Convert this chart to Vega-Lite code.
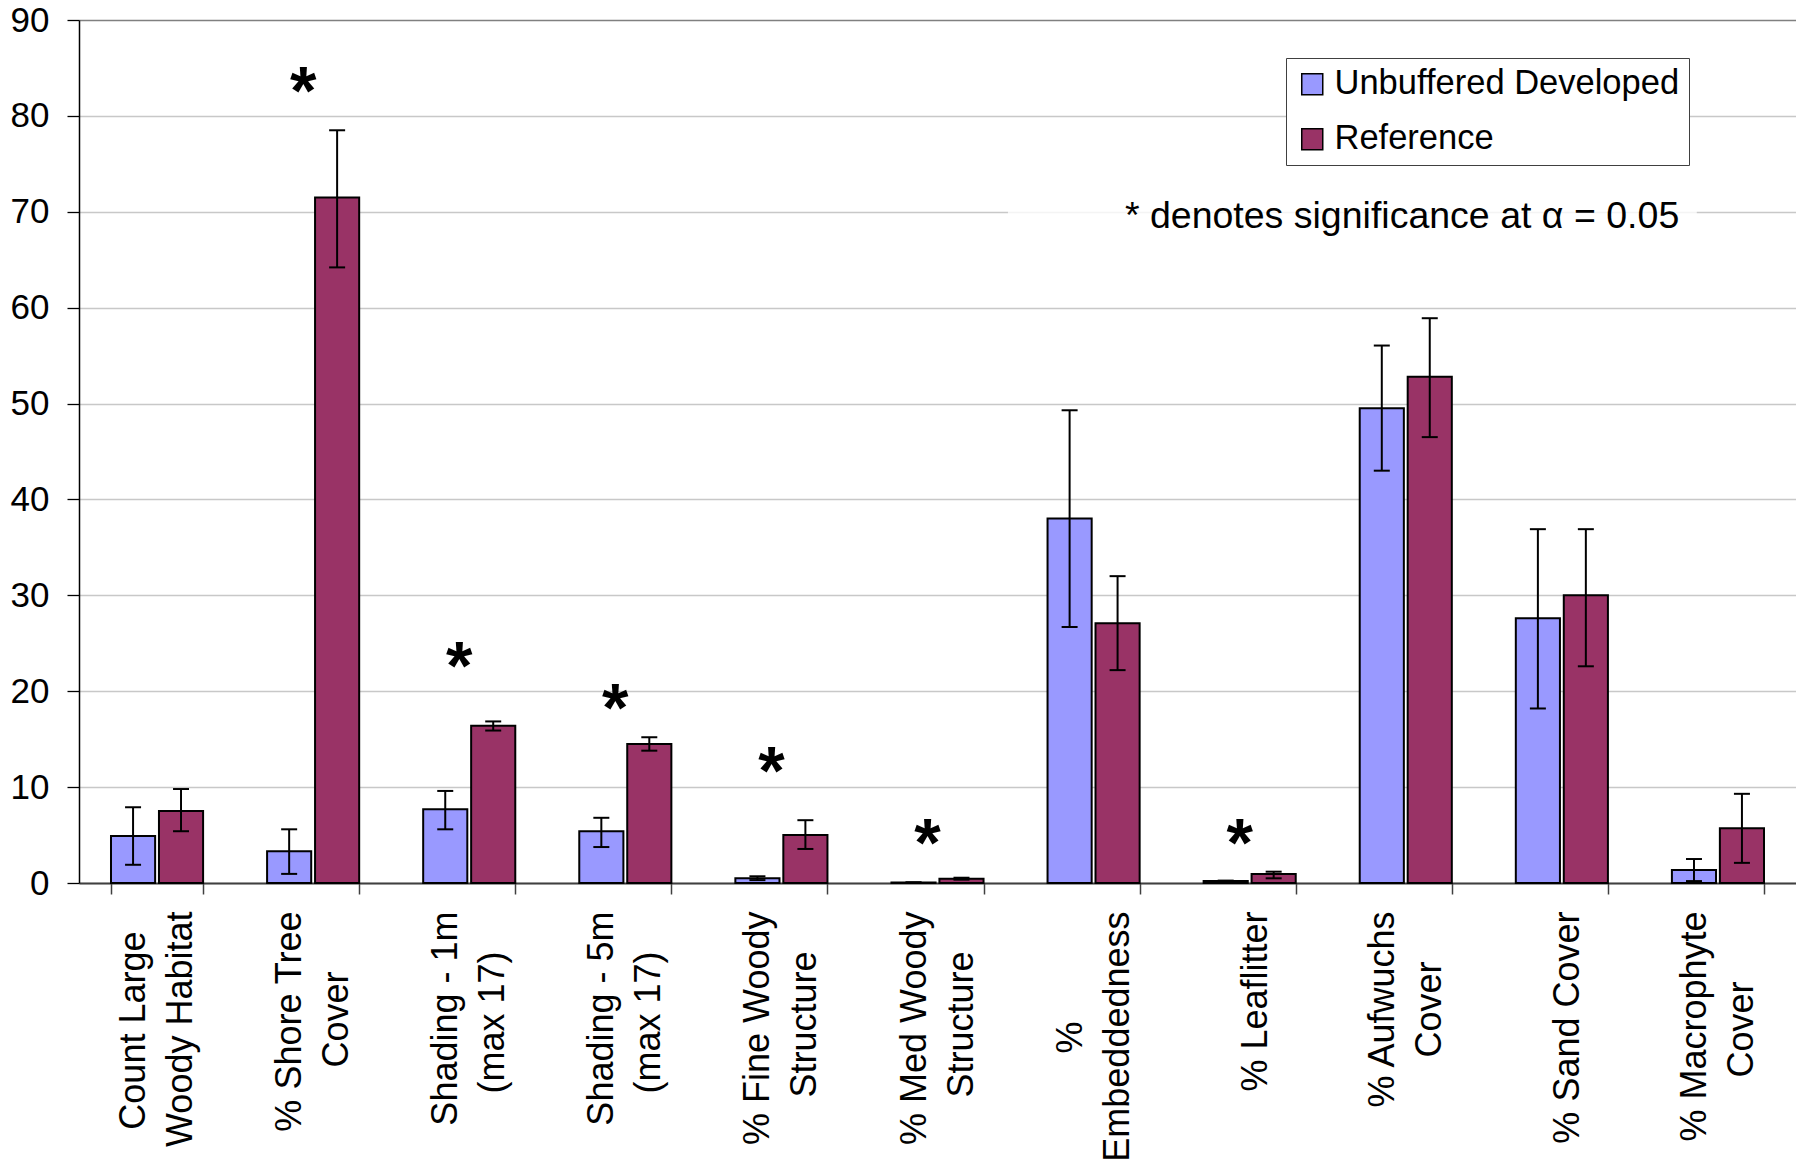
{
  "$schema": "https://vega.github.io/schema/vega-lite/v6.json",
  "width": 1717,
  "height": 863,
  "autosize": {"type": "none"},
  "padding": {"left": 79, "top": 20, "right": 0, "bottom": 278},
  "background": "white",
  "config": {
    "view": {"stroke": null},
    "font": "Liberation Sans",
    "text": {"font": "Liberation Sans"}
  },
  "datasets": {
    "bars": [
      {"cat": "Count Large Woody Habitat", "series": "Unbuffered Developed", "value": 4.9, "lo": 1.9, "hi": 7.9},
      {"cat": "Count Large Woody Habitat", "series": "Reference", "value": 7.5, "lo": 5.4, "hi": 9.8},
      {"cat": "% Shore Tree Cover", "series": "Unbuffered Developed", "value": 3.3, "lo": 0.95, "hi": 5.6},
      {"cat": "% Shore Tree Cover", "series": "Reference", "value": 71.5, "lo": 64.2, "hi": 78.5},
      {"cat": "Shading - 1m (max 17)", "series": "Unbuffered Developed", "value": 7.7, "lo": 5.6, "hi": 9.6},
      {"cat": "Shading - 1m (max 17)", "series": "Reference", "value": 16.4, "lo": 15.9, "hi": 16.85},
      {"cat": "Shading - 5m (max 17)", "series": "Unbuffered Developed", "value": 5.4, "lo": 3.75, "hi": 6.8},
      {"cat": "Shading - 5m (max 17)", "series": "Reference", "value": 14.5, "lo": 13.8, "hi": 15.2},
      {"cat": "% Fine Woody Structure", "series": "Unbuffered Developed", "value": 0.5, "lo": 0.3, "hi": 0.7},
      {"cat": "% Fine Woody Structure", "series": "Reference", "value": 5.0, "lo": 3.55, "hi": 6.55},
      {"cat": "% Med Woody Structure", "series": "Unbuffered Developed", "value": 0.05, "lo": 0.03, "hi": 0.07},
      {"cat": "% Med Woody Structure", "series": "Reference", "value": 0.45, "lo": 0.35, "hi": 0.55},
      {"cat": "% Embeddedness", "series": "Unbuffered Developed", "value": 38.0, "lo": 26.7, "hi": 49.3},
      {"cat": "% Embeddedness", "series": "Reference", "value": 27.1, "lo": 22.2, "hi": 32.0},
      {"cat": "% Leaflitter", "series": "Unbuffered Developed", "value": 0.2, "lo": 0.15, "hi": 0.25},
      {"cat": "% Leaflitter", "series": "Reference", "value": 0.93, "lo": 0.49, "hi": 1.18},
      {"cat": "% Aufwuchs Cover", "series": "Unbuffered Developed", "value": 49.5, "lo": 43.0, "hi": 56.05},
      {"cat": "% Aufwuchs Cover", "series": "Reference", "value": 52.8, "lo": 46.5, "hi": 58.9},
      {"cat": "% Sand Cover", "series": "Unbuffered Developed", "value": 27.6, "lo": 18.2, "hi": 36.9},
      {"cat": "% Sand Cover", "series": "Reference", "value": 30.0, "lo": 22.6, "hi": 36.9},
      {"cat": "% Macrophyte Cover", "series": "Unbuffered Developed", "value": 1.35, "lo": 0.2, "hi": 2.5},
      {"cat": "% Macrophyte Cover", "series": "Reference", "value": 5.7, "lo": 2.1, "hi": 9.3}
    ],
    "stars": [
      {"cat": "% Shore Tree Cover", "y": 83.7, "mark": "*"},
      {"cat": "Shading - 1m (max 17)", "y": 23.8, "mark": "*"},
      {"cat": "Shading - 5m (max 17)", "y": 19.4, "mark": "*"},
      {"cat": "% Fine Woody Structure", "y": 12.8, "mark": "*"},
      {"cat": "% Med Woody Structure", "y": 5.35, "mark": "*"},
      {"cat": "% Leaflitter", "y": 5.27, "mark": "*"}
    ],
    "note": [
      {"label": "* denotes significance at α = 0.05", "y": 69.42, "y1": 67.6, "y2": 71.8}
    ]
  },
  "layer": [
    {
      "data": {"name": "bars"},
      "mark": {"type": "bar", "stroke": "black", "strokeWidth": 2},
      "encoding": {
        "x": {
          "field": "cat",
          "type": "nominal",
          "sort": null,
          "scale": {
            "domain": ["Count Large Woody Habitat", "% Shore Tree Cover", "Shading - 1m (max 17)", "Shading - 5m (max 17)", "% Fine Woody Structure", "% Med Woody Structure", "% Embeddedness", "% Leaflitter", "% Aufwuchs Cover", "% Sand Cover", "% Macrophyte Cover"],
            "paddingInner": 0.41,
            "paddingOuter": 0.205
          },
          "axis": {
            "title": null,
            "labelAngle": -90,
            "labelAlign": "right",
            "labelBaseline": "middle",
            "labelFont": "Liberation Sans",
            "labelFontSize": 36,
            "labelLineHeight": 47,
            "labelColor": "black",
            "labelPadding": 17,
            "labelLimit": 0,
            "labelOverlap": false,
            "labelOffset": {"condition": {"test": "datum.label === '% Leaflitter' || datum.label === '% Sand Cover'", "value": 6}, "value": -23.5},
            "labelExpr": "{'Count Large Woody Habitat': ['Count Large\u00a0\u00a0\u200b', 'Woody Habitat'], '% Shore Tree Cover': ['% Shore Tree', 'Cover\u00a0\u00a0\u00a0\u00a0\u00a0\u00a0\u200b'], 'Shading - 1m (max 17)': ['Shading - 1m', '(max 17)\u00a0\u00a0\u00a0\u00a0\u200b'], 'Shading - 5m (max 17)': ['Shading - 5m', '(max 17)\u00a0\u00a0\u00a0\u00a0\u200b'], '% Fine Woody Structure': ['% Fine Woody', 'Structure\u00a0\u00a0\u00a0\u00a0\u200b'], '% Med Woody Structure': ['% Med Woody', 'Structure\u00a0\u00a0\u00a0\u00a0\u200b'], '% Embeddedness': ['%\u00a0\u00a0\u00a0\u00a0\u00a0\u00a0\u00a0\u00a0\u00a0\u00a0\u00a0\u200b', 'Embeddedness'], '% Leaflitter': '% Leaflitter', '% Aufwuchs Cover': ['% Aufwuchs', 'Cover\u00a0\u00a0\u00a0\u00a0\u00a0\u200b'], '% Sand Cover': '% Sand Cover', '% Macrophyte Cover': ['% Macrophyte', 'Cover\u00a0\u00a0\u00a0\u00a0\u00a0\u00a0\u00a0\u200b']}[datum.label]",
            "tickBand": "extent",
            "tickSize": 11,
            "tickColor": "#404040",
            "tickWidth": 1.5,
            "domainColor": "#404040",
            "domainWidth": 2,
            "grid": false
          }
        },
        "xOffset": {
          "field": "series",
          "type": "nominal",
          "sort": null,
          "scale": {"domain": ["Unbuffered Developed", "Reference"], "paddingInner": 0.08}
        },
        "y": {
          "field": "value",
          "type": "quantitative",
          "scale": {"domain": [0, 90], "nice": false},
          "axis": {
            "title": null,
            "values": [0, 10, 20, 30, 40, 50, 60, 70, 80, 90],
            "labelFont": "Liberation Sans",
            "labelFontSize": 35,
            "labelColor": "black",
            "labelPadding": 18,
            "tickSize": 12,
            "tickColor": "black",
            "tickWidth": 1.3,
            "domainColor": "black",
            "domainWidth": 1.5,
            "grid": true,
            "gridColor": {"condition": {"test": "datum.value === 90", "value": "#808080"}, "value": "#c8c8c8"},
            "gridWidth": 1.3
          }
        },
        "color": {
          "field": "series",
          "type": "nominal",
          "sort": null,
          "scale": {"domain": ["Unbuffered Developed", "Reference"], "range": ["#9999FF", "#993366"]},
          "legend": {
            "title": null,
            "orient": "none",
            "legendX": 1207,
            "legendY": 38,
            "direction": "vertical",
            "fillColor": "white",
            "strokeColor": "#404040",
            "padding": 9,
            "labelFont": "Liberation Sans",
            "labelFontSize": 34.5,
            "labelColor": "black",
            "labelOffset": 5,
            "labelLimit": 0,
            "symbolType": "square",
            "symbolSize": 441,
            "symbolStrokeColor": "black",
            "symbolStrokeWidth": 1.5,
            "symbolOpacity": 1,
            "rowPadding": 20
          }
        }
      }
    },
    {
      "data": {"name": "bars"},
      "mark": {"type": "rule", "color": "black", "strokeWidth": 2},
      "encoding": {
        "x": {"field": "cat", "type": "nominal", "sort": null},
        "xOffset": {"field": "series", "type": "nominal", "sort": null},
        "y": {"field": "lo", "type": "quantitative"},
        "y2": {"field": "hi"}
      }
    },
    {
      "data": {"name": "bars"},
      "mark": {"type": "tick", "color": "black", "size": 16, "thickness": 2, "opacity": 1},
      "encoding": {
        "x": {"field": "cat", "type": "nominal", "sort": null},
        "xOffset": {"field": "series", "type": "nominal", "sort": null},
        "y": {"field": "lo", "type": "quantitative"}
      }
    },
    {
      "data": {"name": "bars"},
      "mark": {"type": "tick", "color": "black", "size": 16, "thickness": 2, "opacity": 1},
      "encoding": {
        "x": {"field": "cat", "type": "nominal", "sort": null},
        "xOffset": {"field": "series", "type": "nominal", "sort": null},
        "y": {"field": "hi", "type": "quantitative"}
      }
    },
    {
      "data": {"name": "stars"},
      "mark": {"type": "text", "font": "Liberation Sans", "fontSize": 68, "fontWeight": "bold", "baseline": "alphabetic", "align": "center", "dy": 34, "dx": -10, "color": "black"},
      "encoding": {
        "x": {"field": "cat", "type": "nominal", "sort": null},
        "y": {"field": "y", "type": "quantitative"},
        "text": {"field": "mark"}
      }
    },
    {
      "data": {"name": "note"},
      "mark": {"type": "rect", "color": "white", "opacity": 0.8},
      "encoding": {
        "x": {"datum": "% Embeddedness", "bandPosition": -0.43},
        "x2": {"datum": "% Macrophyte Cover", "bandPosition": 0.27},
        "y": {"field": "y1", "type": "quantitative"},
        "y2": {"field": "y2"}
      }
    },
    {
      "data": {"name": "note"},
      "mark": {"type": "text", "font": "Liberation Sans", "fontSize": 37.5, "align": "left", "baseline": "middle", "color": "black"},
      "encoding": {
        "x": {"datum": "% Embeddedness", "bandPosition": 0.84},
        "y": {"field": "y", "type": "quantitative"},
        "text": {"field": "label"}
      }
    }
  ]
}
